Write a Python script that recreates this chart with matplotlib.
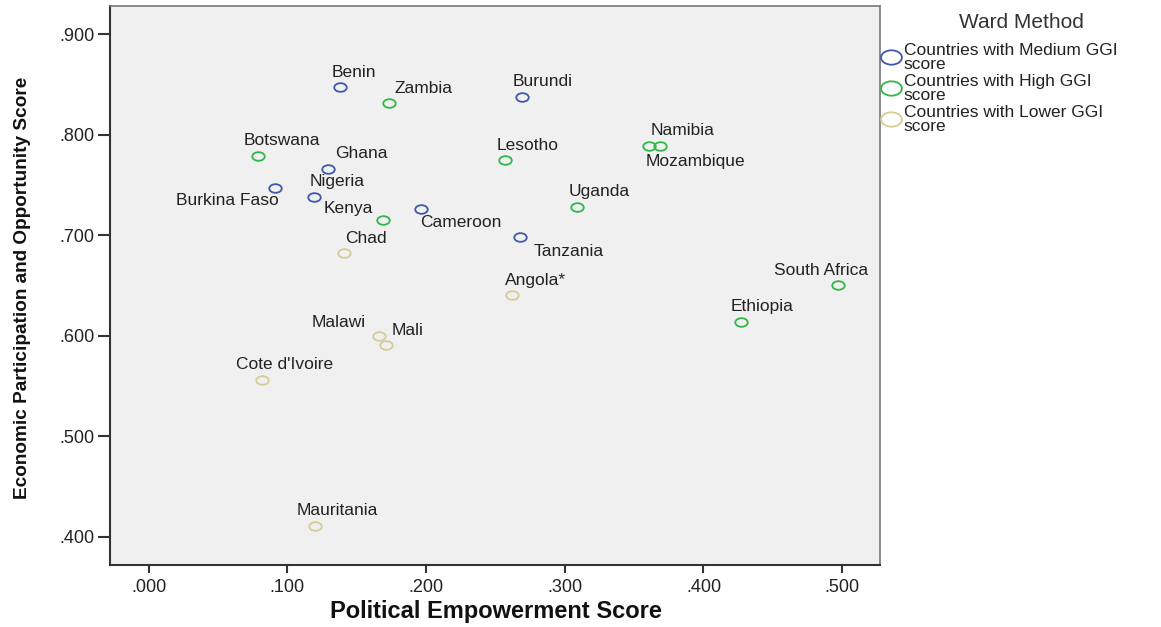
import matplotlib
matplotlib.use("Agg")
import matplotlib.pyplot as plt
from matplotlib.path import Path
from matplotlib.transforms import Affine2D
from matplotlib.lines import Line2D
from matplotlib.ticker import FuncFormatter

plt.rcParams['font.family'] = ['Liberation Sans', 'DejaVu Sans']

# data
countries = ["Benin", "Zambia", "Burundi", "Botswana", "Ghana", "Nigeria",
             "Burkina Faso", "Kenya", "Chad", "Cameroon", "Tanzania", "Lesotho",
             "Namibia", "Mozambique", "Uganda", "Angola*", "South Africa",
             "Ethiopia", "Malawi", "Mali", "Cote d'Ivoire", "Mauritania"]
political = [0.138, 0.173, 0.269, 0.079, 0.129, 0.119,
             0.091, 0.169, 0.141, 0.196, 0.268, 0.257,
             0.361, 0.369, 0.309, 0.262, 0.497,
             0.427, 0.166, 0.171, 0.082, 0.120]
economic = [0.847, 0.831, 0.837, 0.779, 0.766, 0.738,
            0.747, 0.715, 0.682, 0.726, 0.698, 0.775,
            0.789, 0.789, 0.728, 0.640, 0.650,
            0.614, 0.600, 0.591, 0.556, 0.411]
cluster = ["Medium", "High", "Medium", "High", "Medium", "Medium",
           "Medium", "High", "Lower", "Medium", "Medium", "High",
           "High", "High", "High", "Lower", "High",
           "High", "Lower", "Lower", "Lower", "Lower"]

groups = ["Medium", "High", "Lower"]
group_labels = ["Countries with Medium GGI\nscore",
                "Countries with High GGI\nscore",
                "Countries with Lower GGI\nscore"]
colors = {"Medium": "#3E58AC", "High": "#2EB848", "Lower": "#D3CE97"}

# label offsets from the point, in pixels (right, up)
label_offsets = {
    "Benin": (14, 15), "Zambia": (35, 15), "Burundi": (21, 16),
    "Botswana": (24, 15), "Ghana": (34, 15), "Nigeria": (23, 15),
    "Burkina Faso": (-48, -13), "Kenya": (-35, 12), "Chad": (22, 15),
    "Cameroon": (40, -14), "Tanzania": (48, -14), "Lesotho": (23, 14),
    "Namibia": (33, 15), "Mozambique": (35, -16), "Uganda": (22, 15),
    "Angola*": (23, 15), "South Africa": (-17, 15), "Ethiopia": (21, 15),
    "Malawi": (-40, 13), "Mali": (22, 14), "Cote d'Ivoire": (22, 15),
    "Mauritania": (22, 15),
}

ellipse = Path(Affine2D().scale(1.45, 1.0).transform(Path.unit_circle().vertices),
               Path.unit_circle().codes)

fig = plt.figure(figsize=(11.61, 6.27), dpi=100)
ax = fig.add_axes([110 / 1161, 1 - 565 / 627, 770 / 1161, 559 / 627])
ax.set_facecolor("#F0F0F0")

for g in groups:
    xs = [x for x, c in zip(political, cluster) if c == g]
    ys = [y for y, c in zip(economic, cluster) if c == g]
    ax.plot(xs, ys, linestyle="none", marker=ellipse, markersize=9,
            markerfacecolor="none", markeredgecolor=colors[g], markeredgewidth=1.3)

for name, x, y in zip(countries, political, economic):
    dx, dy = label_offsets[name]
    ax.annotate(name, (x, y), xytext=(dx, dy), textcoords="offset pixels",
                ha="center", va="center", fontsize=12.5, color="#222222")

ax.set_xlim(-0.0279, 0.5273)
ax.set_ylim(0.3718, 0.9279)
ax.set_xticks([0.0, 0.1, 0.2, 0.3, 0.4, 0.5])
ax.set_yticks([0.4, 0.5, 0.6, 0.7, 0.8, 0.9])
fmt = FuncFormatter(lambda v, p: ("%.3f" % v).lstrip("0"))
ax.xaxis.set_major_formatter(fmt)
ax.yaxis.set_major_formatter(fmt)
ax.tick_params(axis="x", length=6, width=1.5, color="#333333", labelsize=13,
               labelcolor="#222222", pad=4)
ax.tick_params(axis="y", length=9, width=1.5, color="#333333", labelsize=13,
               labelcolor="#222222", pad=2)

for side in ["left", "bottom"]:
    ax.spines[side].set_color("#333333")
    ax.spines[side].set_linewidth(1.5)
for side in ["top", "right"]:
    ax.spines[side].set_color("#777777")
    ax.spines[side].set_linewidth(1.2)

ax.set_xlabel("Political Empowerment Score", fontsize=17, fontweight="bold",
              color="#111111", va="center")
ax.xaxis.set_label_coords(0.5006, -0.084)
ax.set_ylabel("Economic Participation and Opportunity Score", fontsize=13.7,
              fontweight="bold", color="#111111", va="center")
ax.yaxis.set_label_coords(-0.114, 0.496)

handles = [Line2D([], [], linestyle="none", marker=ellipse, markersize=15,
                  markerfacecolor="none", markeredgecolor=colors[g],
                  markeredgewidth=1.3) for g in groups]
leg = fig.legend(handles, group_labels, loc="upper left",
                 bbox_to_anchor=(874 / 1161, 1 - 34 / 627), frameon=False,
                 fontsize=12.5, handlelength=1.0, handletextpad=0.2,
                 labelspacing=0.12, borderpad=0.0)
for t in leg.get_texts():
    t.set_linespacing(0.92)
    t.set_color("#222222")
fig.text(1021 / 1161, 1 - 22 / 627, "Ward Method", ha="center", va="center",
         fontsize=15, color="#333333")

fig.savefig("out.png", dpi=100)
